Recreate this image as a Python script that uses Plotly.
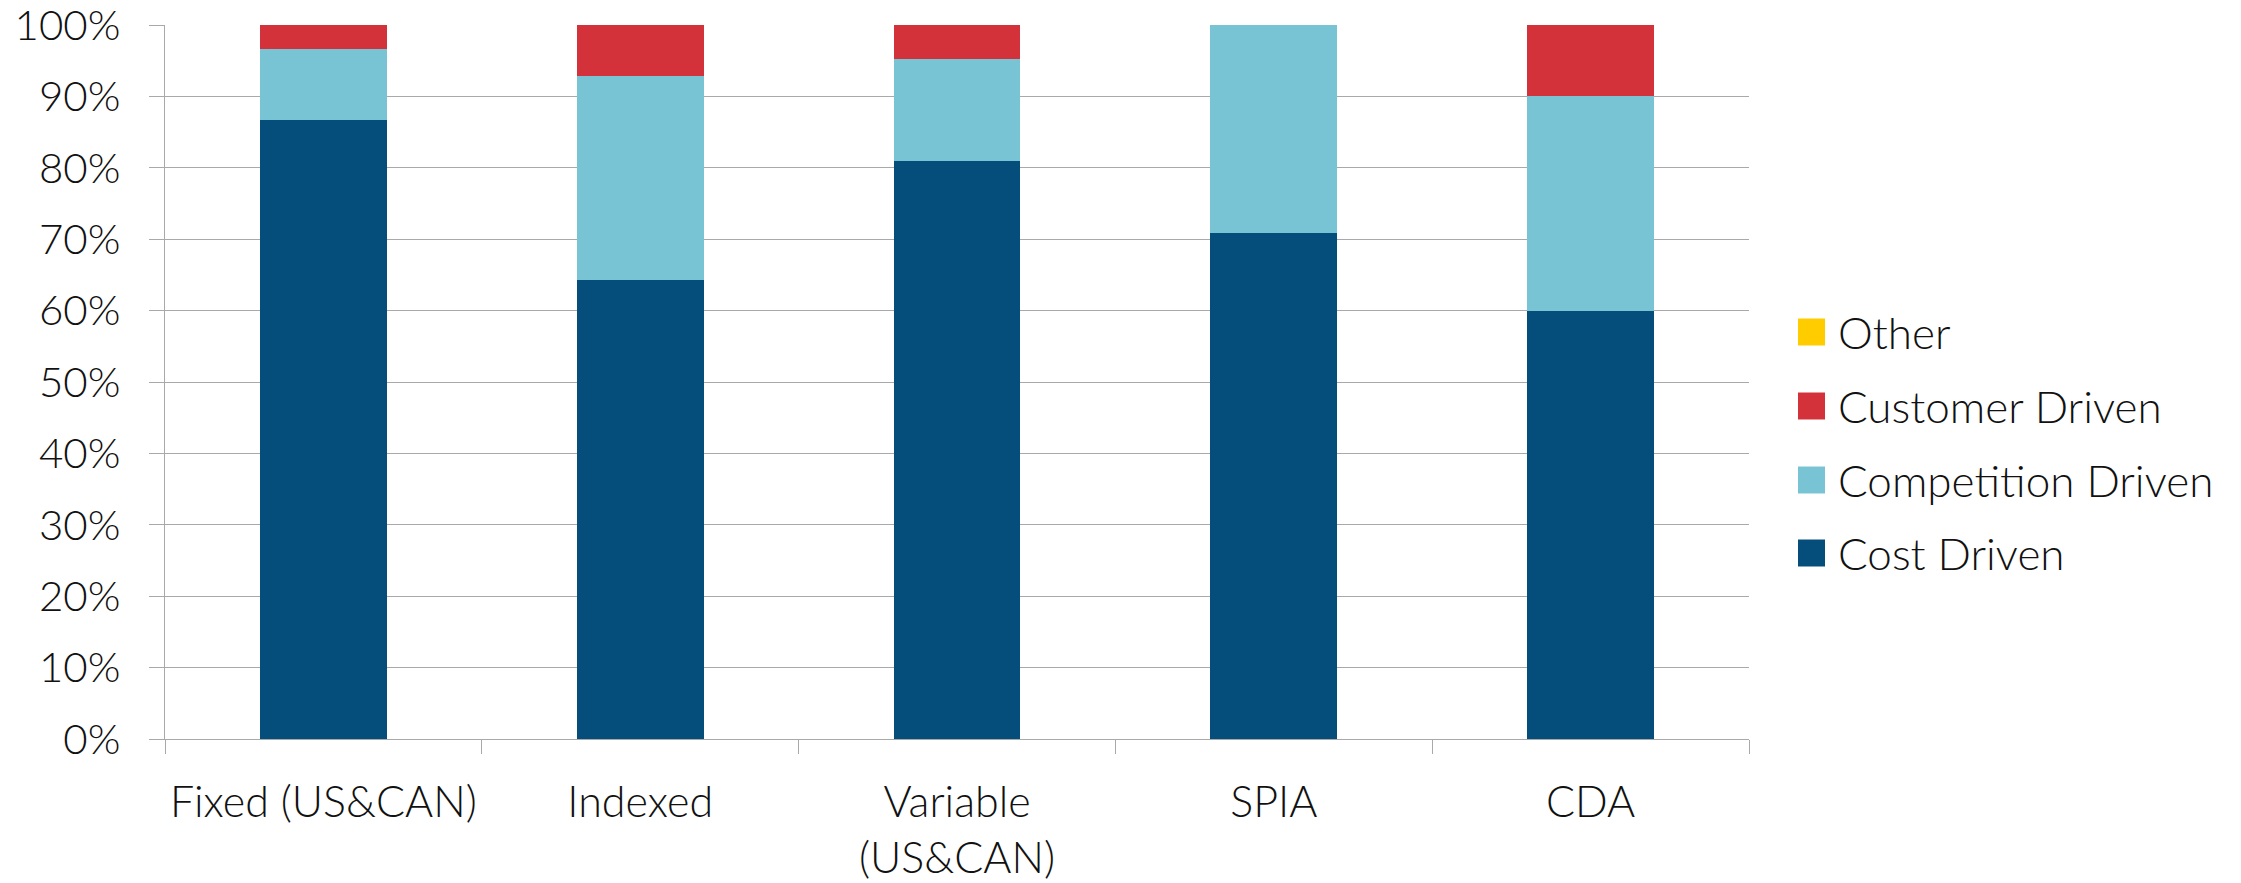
import plotly.graph_objects as go

categories = ["Fixed (US&CAN)", "Indexed", "Variable<br>(US&CAN)", "SPIA", "CDA"]
cost_driven = [86.7, 64.3, 80.95, 70.8, 60.0]
competition_driven = [10.0, 28.6, 14.3, 29.2, 30.0]
customer_driven = [3.3, 7.1, 4.75, 0.0, 10.0]
other = [0, 0, 0, 0, 0]

series_names = ["Cost Driven", "Competition Driven", "Customer Driven", "Other"]
series_values = [cost_driven, competition_driven, customer_driven, other]
series_colors = ["#054E7C", "#78C4D4", "#D4323A", "#FFCC00"]

FONT = "Lato"
TXT = "#111111"
GRID = "#A9A9A9"

OFF = 0  # page body margin removed via post_script
W, H = 2241, 883
L, R, T, B = 165, 492, 25, 144
PW, PH = W - L - R, H - T - B

fig = go.Figure()
for name, vals, col in zip(series_names, series_values, series_colors):
    fig.add_trace(go.Bar(
        x=categories, y=[v / 100 for v in vals], name=name,
        marker=dict(color=col, line=dict(width=0)),
        width=0.4, showlegend=False,
    ))

# custom legend (large square swatches), top to bottom: reversed series order
def px_x(x):
    return (x - OFF - L) / PW

def px_y(y):
    return (H - B - (y - OFF)) / PH

shapes = []
annotations = []
leg_y = [332, 406, 480, 553]
for i, (name, col) in enumerate(zip(series_names[::-1], series_colors[::-1])):
    yc = leg_y[i]
    shapes.append(dict(type="rect", xref="paper", yref="paper",
                       x0=px_x(1798), x1=px_x(1825), y0=px_y(yc + 13.5), y1=px_y(yc - 13.5),
                       fillcolor=col, line=dict(width=0)))
    annotations.append(dict(xref="paper", yref="paper", x=px_x(1836), y=px_y(yc),
                            xanchor="left", yanchor="middle", text=name, showarrow=False,
                            font=dict(family=FONT, size=44, color=TXT, weight=300)))

fig.update_layout(
    barmode="stack",
    width=W, height=H,
    margin=dict(l=L, r=R, t=T, b=B, autoexpand=False),
    paper_bgcolor="white", plot_bgcolor="white",
    font=dict(family=FONT, size=40, color=TXT, weight=300),
    showlegend=False,
    shapes=shapes, annotations=annotations,
)
fig.update_yaxes(
    range=[0, 1], tickvals=[i / 10 for i in range(11)], tickformat=".0%",
    showgrid=True, gridcolor=GRID, gridwidth=1.3,
    showline=True, linecolor=GRID, linewidth=1.3,
    ticks="outside", ticklen=15, tickcolor=GRID, tickwidth=1.3,
    ticklabelstandoff=20, ticklabeloverflow="allow",
    tickfont=dict(family=FONT, size=42, color=TXT, weight=300),
    zeroline=False, fixedrange=True, automargin=False,
)
fig.update_xaxes(
    showline=True, linecolor=GRID, linewidth=1.3,
    ticks="outside", ticklen=14, tickcolor=GRID, tickwidth=1.3,
    tickson="boundaries", ticklabelstandoff=25, ticklabeloverflow="allow",
    tickfont=dict(family=FONT, size=43, color=TXT, weight=300),
    fixedrange=True, automargin=False,
)

fig.write_html("out.html", config={"displayModeBar": False},
               post_script="document.body.style.margin='0';")
